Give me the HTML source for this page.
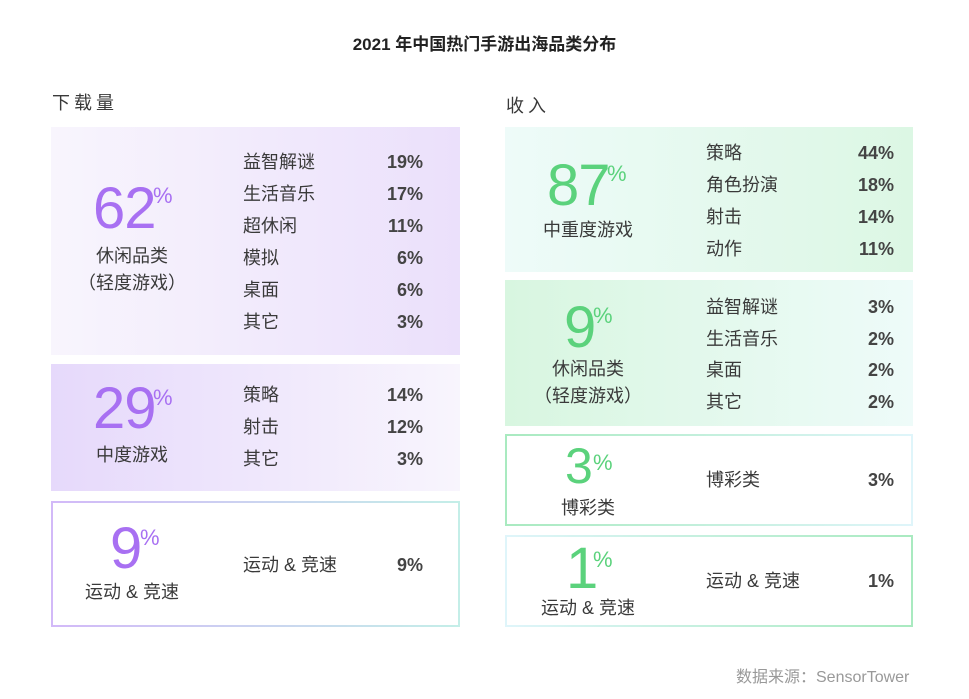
<!DOCTYPE html>
<html><head><meta charset="utf-8"><style>
body{margin:0;width:969px;height:699px;background:#fff;font-family:"Liberation Sans","Noto Sans CJK SC",sans-serif;color:#3a3a3a;position:relative;overflow:hidden}
.a{position:absolute;white-space:nowrap}
.box{position:absolute;box-sizing:border-box}
.t{font-size:18px;line-height:20px}
.p{font-size:18px;line-height:20px;font-weight:bold;text-align:right;width:60px;color:#444}
.big{font-size:58px;line-height:58px;letter-spacing:-1px;font-family:"Liberation Sans",sans-serif}
.sup{font-size:22px;line-height:22px}
.pu{color:#a870f2}.gr{color:#5bd27c}
.c{text-align:center;width:160px}
</style></head><body>
<div class="a" style="left:0;width:969px;top:30px;text-align:center;font-size:17px;font-weight:bold;color:#222">2021 年中国热门手游出海品类分布</div>
<div class="a" style="left:52px;top:89px;font-size:18px;letter-spacing:4px">下载量</div>
<div class="a" style="left:506px;top:92px;font-size:18px;letter-spacing:4px">收入</div>

<div class="box" style="left:51px;top:127px;width:409px;height:228px;background:linear-gradient(90deg,#f8f5fd,#ebe0fb)"></div>
<div class="box" style="left:51px;top:364px;width:409px;height:127px;background:linear-gradient(90deg,#e6d9fb,#f8f5fd)"></div>
<div class="box" style="left:51px;top:501px;width:409px;height:126px;border:2px solid;border-image:linear-gradient(90deg,#d2b9f8,#c4eee8) 1"></div>

<div class="box" style="left:505px;top:127px;width:408px;height:145px;background:linear-gradient(90deg,#eefbf9,#dcf7e4)"></div>
<div class="box" style="left:505px;top:280px;width:408px;height:146px;background:linear-gradient(90deg,#d8f6e0,#eefbf9)"></div>
<div class="box" style="left:505px;top:434px;width:408px;height:92px;border:2px solid;border-image:linear-gradient(90deg,#a9eac0,#dff5fa) 1"></div>
<div class="box" style="left:505px;top:535px;width:408px;height:92px;border:2px solid;border-image:linear-gradient(90deg,#dff5fa,#a9eac0) 1"></div>

<div class="a big pu" style="left:93px;top:180px">62</div><div class="a sup pu" style="left:153px;top:185px">%</div>
<div class="a t c" style="left:52px;top:246px">休闲品类</div>
<div class="a t c" style="left:52px;top:273px">（轻度游戏）</div>
<div class="a big pu" style="left:93px;top:380px">29</div><div class="a sup pu" style="left:153px;top:387px">%</div>
<div class="a t c" style="left:52px;top:445px">中度游戏</div>
<div class="a big pu" style="left:110px;top:520px">9</div><div class="a sup pu" style="left:140px;top:527px">%</div>
<div class="a t c" style="left:52px;top:582px">运动 &amp; 竞速</div>

<div class="a t" style="left:243px;top:152px">益智解谜</div><div class="a p" style="left:363px;top:152px">19%</div>
<div class="a t" style="left:243px;top:184px">生活音乐</div><div class="a p" style="left:363px;top:184px">17%</div>
<div class="a t" style="left:243px;top:216px">超休闲</div><div class="a p" style="left:363px;top:216px">11%</div>
<div class="a t" style="left:243px;top:248px">模拟</div><div class="a p" style="left:363px;top:248px">6%</div>
<div class="a t" style="left:243px;top:280px">桌面</div><div class="a p" style="left:363px;top:280px">6%</div>
<div class="a t" style="left:243px;top:312px">其它</div><div class="a p" style="left:363px;top:312px">3%</div>
<div class="a t" style="left:243px;top:385px">策略</div><div class="a p" style="left:363px;top:385px">14%</div>
<div class="a t" style="left:243px;top:417px">射击</div><div class="a p" style="left:363px;top:417px">12%</div>
<div class="a t" style="left:243px;top:449px">其它</div><div class="a p" style="left:363px;top:449px">3%</div>
<div class="a t" style="left:243px;top:555px">运动 &amp; 竞速</div><div class="a p" style="left:363px;top:555px">9%</div>

<div class="a big gr" style="left:547px;top:157px">87</div><div class="a sup gr" style="left:607px;top:163px">%</div>
<div class="a t c" style="left:508px;top:220px">中重度游戏</div>
<div class="a big gr" style="left:564px;top:299px">9</div><div class="a sup gr" style="left:593px;top:305px">%</div>
<div class="a t c" style="left:508px;top:359px">休闲品类</div>
<div class="a t c" style="left:508px;top:386px">（轻度游戏）</div>
<div class="a big gr" style="left:565px;top:441px;font-size:50px;line-height:50px">3</div><div class="a sup gr" style="left:593px;top:452px">%</div>
<div class="a t c" style="left:508px;top:498px">博彩类</div>
<div class="a big gr" style="left:566px;top:540px">1</div><div class="a sup gr" style="left:593px;top:549px">%</div>
<div class="a t c" style="left:508px;top:598px">运动 &amp; 竞速</div>

<div class="a t" style="left:706px;top:143px">策略</div><div class="a p" style="left:834px;top:143px">44%</div>
<div class="a t" style="left:706px;top:175px">角色扮演</div><div class="a p" style="left:834px;top:175px">18%</div>
<div class="a t" style="left:706px;top:207px">射击</div><div class="a p" style="left:834px;top:207px">14%</div>
<div class="a t" style="left:706px;top:239px">动作</div><div class="a p" style="left:834px;top:239px">11%</div>
<div class="a t" style="left:706px;top:297px">益智解谜</div><div class="a p" style="left:834px;top:297px">3%</div>
<div class="a t" style="left:706px;top:329px">生活音乐</div><div class="a p" style="left:834px;top:329px">2%</div>
<div class="a t" style="left:706px;top:360px">桌面</div><div class="a p" style="left:834px;top:360px">2%</div>
<div class="a t" style="left:706px;top:392px">其它</div><div class="a p" style="left:834px;top:392px">2%</div>
<div class="a t" style="left:706px;top:470px">博彩类</div><div class="a p" style="left:834px;top:470px">3%</div>
<div class="a t" style="left:706px;top:571px">运动 &amp; 竞速</div><div class="a p" style="left:834px;top:571px">1%</div>

<div class="a" style="left:736px;top:663px;font-size:16px;color:#999">数据来源：SensorTower</div>
</body></html>
